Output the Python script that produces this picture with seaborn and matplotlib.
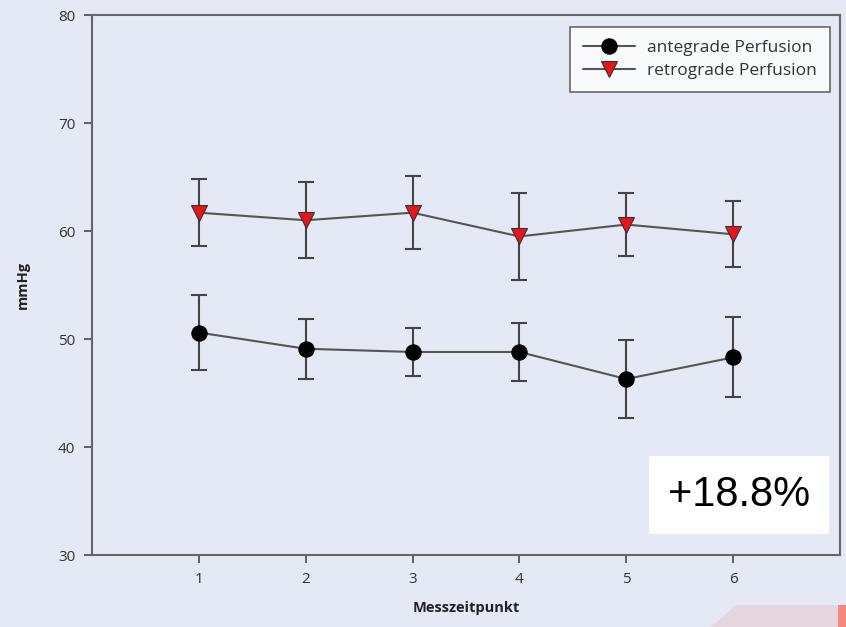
import matplotlib
matplotlib.use("Agg")
import matplotlib.pyplot as plt
from matplotlib.lines import Line2D
from matplotlib.patches import Polygon
import numpy as np
import pandas as pd
import seaborn as sns

# Messzeitpunkte and mean +/- SD
timepoints = [1, 2, 3, 4, 5, 6]
antegrade_mean = [50.6, 49.1, 48.8, 48.8, 46.3, 48.3]
antegrade_sd = [3.45, 2.8, 2.2, 2.7, 3.6, 3.7]
retrograde_mean = [61.7, 61.0, 61.7, 59.5, 60.6, 59.7]
retrograde_sd = [3.1, 3.5, 3.4, 4.0, 2.9, 3.05]
series_labels = ["antegrade Perfusion", "retrograde Perfusion"]
annotation = "+18.8%"

BG = "#e4e9f5"
LINE = "#555555"
EDGE = "#333333"

df = pd.concat([
    pd.DataFrame({"t": timepoints, "mean": antegrade_mean, "sd": antegrade_sd, "group": series_labels[0]}),
    pd.DataFrame({"t": timepoints, "mean": retrograde_mean, "sd": retrograde_sd, "group": series_labels[1]}),
])

sns.set_style("ticks")
plt.rcParams["font.family"] = ["Open Sans", "DejaVu Sans"]

fig = plt.figure(figsize=(8.46, 6.27), dpi=100)
fig.patch.set_facecolor(BG)
ax = fig.add_axes([0.1087, 0.1148, 0.8842, 0.8612])
ax.set_facecolor(BG)

styles = {
    series_labels[0]: dict(marker="o", markerfacecolor="black", markeredgecolor="black", markersize=11),
    series_labels[1]: dict(marker="v", markerfacecolor="#e8141c", markeredgecolor=EDGE, markersize=12),
}

for name, grp in df.groupby("group", sort=False):
    ax.errorbar(grp["t"], grp["mean"], yerr=grp["sd"], fmt="none", ecolor="#444444",
                elinewidth=1.5, capsize=5.5, capthick=1.5, zorder=2)
    sns.lineplot(data=grp, x="t", y="mean", ax=ax, color=LINE, linewidth=1.5,
                 markeredgewidth=0.8, zorder=3, **styles[name])

ax.set_xlim(0, 7)
ax.set_ylim(30, 80)
ax.set_xticks(timepoints)
ax.set_yticks([30, 40, 50, 60, 70, 80])
ax.tick_params(axis="both", which="both", direction="out", length=6, width=1.3, color="#555555",
               labelsize=11, labelcolor="#333333", pad=6, left=True, bottom=True,
               top=False, right=False)
for side in ["left", "bottom", "top", "right"]:
    ax.spines[side].set_visible(True)
    ax.spines[side].set_color("#666666")
    ax.spines[side].set_linewidth(1.5)

ax.set_xlabel("Messzeitpunkt", fontsize=10.5, fontweight="bold", color="#222222", labelpad=10)
ax.set_ylabel("mmHg", fontsize=10.5, fontweight="bold", color="#222222", labelpad=20)

handles = [
    Line2D([], [], color=LINE, linewidth=1.5, markeredgewidth=0.8, **styles[series_labels[0]]),
    Line2D([], [], color=LINE, linewidth=1.5, markeredgewidth=0.8, **styles[series_labels[1]]),
]
leg = ax.legend(handles, series_labels, loc="upper right", bbox_to_anchor=(0.987, 0.978),
                borderaxespad=0, fontsize=12.5, frameon=True, fancybox=False, edgecolor="#444444",
                handlelength=3.0, borderpad=0.75, labelspacing=0.4, handletextpad=0.7)
leg.get_frame().set_linewidth(1.2)
for txt in leg.get_texts():
    txt.set_color("#333333")

fig.text(0.8735, 0.2105, annotation, fontsize=30, color="black", ha="center", va="center",
         family=["Liberation Sans", "DejaVu Sans"],
         bbox=dict(boxstyle="square,pad=0.45", facecolor="white", edgecolor="none"))

# faint pink slide artifact in the lower right corner
fig.patches.append(Polygon([[0.84, 0.0], [0.99, 0.0], [0.99, 0.035], [0.87, 0.035]],
                           closed=True, transform=fig.transFigure, facecolor="#e9c8d0",
                           edgecolor="none", alpha=0.6))
fig.patches.append(Polygon([[0.99, 0.0], [1.0, 0.0], [1.0, 0.035], [0.99, 0.035]],
                           closed=True, transform=fig.transFigure, facecolor="#f08a80",
                           edgecolor="none"))

fig.savefig("out.png", dpi=100, facecolor=BG)
